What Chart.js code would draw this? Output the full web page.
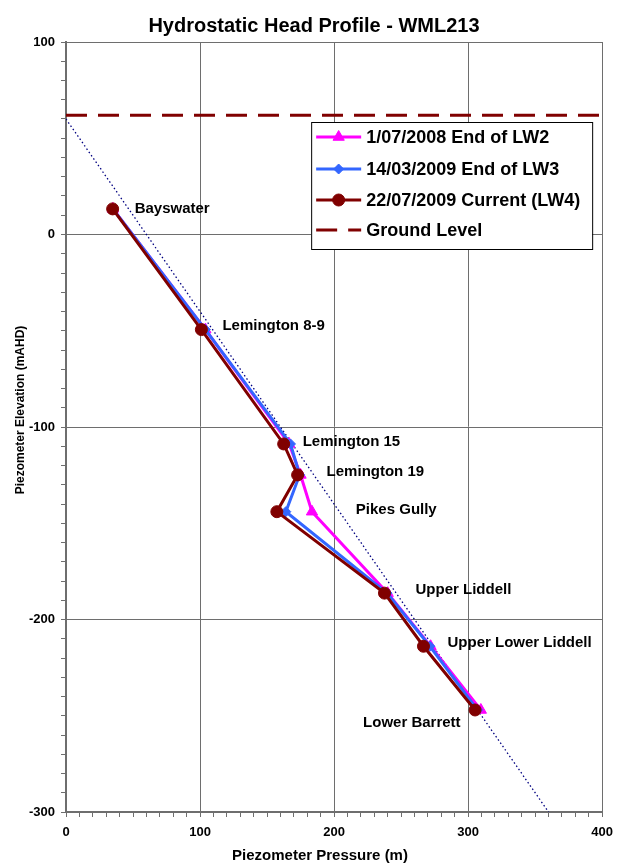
<!DOCTYPE html>
<html><head><meta charset="utf-8">
<script src="https://cdn.jsdelivr.net/npm/chart.js@4.4.1/dist/chart.umd.min.js"></script>
<style>html,body{margin:0;padding:0;background:#fff;}#wrap{width:621px;height:867px;position:relative;}</style>
</head><body><div id="wrap"><canvas id="c" width="621" height="867"></canvas></div>
<script>
const chartTitle = 'Hydrostatic Head Profile - WML213';
const xAxisTitle = 'Piezometer Pressure (m)';
const yAxisTitle = 'Piezometer Elevation (mAHD)';
const piezometers = ['Bayswater','Lemington 8-9','Lemington 15','Lemington 19','Pikes Gully','Upper Liddell','Upper Lower Liddell','Lower Barrett'];
const elevation   = [13.3, -49.4, -108.8, -124.9, -144, -186.3, -213.9, -247];
const pressureLW2 = [35, 104, 166.5, 175, 183.5, 240, 272, 309.5];
const pressureLW3 = [35, 104, 167.5, 174.3, 164, 239.5, 271.5, 307];
const pressureLW4 = [34.8, 101, 162.4, 172.8, 157.3, 237.6, 266.7, 305.2];
const groundLevelX = [0, 400];
const groundLevelY = [62, 62];
const hydrostaticX = [0, 360];
const hydrostaticY = [60, -300];
const seriesNames = ['1/07/2008 End of LW2','14/03/2009 End of LW3','22/07/2009 Current (LW4)','Ground Level'];
const xTickValues = [0, 100, 200, 300, 400];
const yTickValues = [-300, -200, -100, 0, 100];

// label placement offsets (px) relative to the LW4 marker
const labelOffsets = [[22,0],[21,-4],[19,-2],[29,-3],[79,-2],[31,-3],[24,-3],[-112,13]];

const FONT = '"Liberation Sans", Arial, sans-serif';
const toPts = (xs, ys) => xs.map((v, i) => ({x: v, y: ys[i]}));
const isMajorX = v => xTickValues.includes(v);
const isMajorY = v => yTickValues.includes(v);

const overlay = {
  id: 'overlay',
  afterDatasetsDraw(chart) {
    const {ctx, chartArea: a, scales: {x, y}} = chart;
    ctx.save();
    ctx.fillStyle = '#000';
    ctx.font = 'bold 15px ' + FONT;
    ctx.textBaseline = 'middle';
    ctx.textAlign = 'left';
    piezometers.forEach((name, i) => {
      const px = x.getPixelForValue(pressureLW4[i]);
      const py = y.getPixelForValue(elevation[i]);
      ctx.fillText(name, px + labelOffsets[i][0], py + labelOffsets[i][1]);
    });
    // legend
    const bx = a.right - 291, by = a.top + 80, bw = 281, bh = 127;
    ctx.fillStyle = '#fff';
    ctx.fillRect(bx, by, bw, bh);
    ctx.strokeStyle = '#000';
    ctx.lineWidth = 1;
    ctx.strokeRect(bx + 0.5, by + 0.5, bw, bh);
    const rows = [15, 47, 78, 108];
    const ds = chart.data.datasets;
    ctx.font = 'bold 18px ' + FONT;
    for (let i = 0; i < 4; i++) {
      const d = ds[i];
      const yy = by + rows[i];
      ctx.strokeStyle = d.borderColor;
      ctx.lineWidth = 3;
      ctx.setLineDash(d.borderDash || []);
      ctx.beginPath();
      ctx.moveTo(bx + 5, yy); ctx.lineTo(bx + 50, yy);
      ctx.stroke();
      ctx.setLineDash([]);
      if (d.pointRadius) {
        ctx.fillStyle = d.backgroundColor;
        ctx.strokeStyle = d.borderColor;
        ctx.lineWidth = 1;
        Chart.helpers.drawPoint(ctx, {pointStyle: d.pointStyle, radius: d.pointRadius, borderWidth: 1, rotation: 0}, bx + 27.5, yy);
      }
      ctx.fillStyle = '#000';
      ctx.textBaseline = 'middle';
      ctx.fillText(seriesNames[i], bx + 55, yy + 1);
    }
    ctx.restore();
  },
  afterDraw(chart) {
    const {ctx} = chart;
    ctx.save();
    ctx.fillStyle = '#000';
    ctx.textAlign = 'center';
    ctx.textBaseline = 'alphabetic';
    ctx.font = 'bold 20px ' + FONT;
    ctx.fillText(chartTitle, 314, 32);
    ctx.font = 'bold 15px ' + FONT;
    ctx.fillText(xAxisTitle, 320, 860);
    ctx.translate(24, 410);
    ctx.rotate(-Math.PI / 2);
    ctx.font = 'bold 12px ' + FONT;
    ctx.fillText(yAxisTitle, 0, 0);
    ctx.restore();
  }
};

new Chart(document.getElementById('c'), {
  type: 'scatter',
  data: {
    datasets: [
      {label: seriesNames[0], data: toPts(pressureLW2, elevation), showLine: true, borderColor: '#FF00FF', backgroundColor: '#FF00FF', borderWidth: 3, pointStyle: 'triangle', pointRadius: 6.5, pointBorderWidth: 1, order: 3},
      {label: seriesNames[1], data: toPts(pressureLW3, elevation), showLine: true, borderColor: '#3366FF', backgroundColor: '#3366FF', borderWidth: 3, pointStyle: 'rectRot', pointRadius: 5, pointBorderWidth: 1, order: 2},
      {label: seriesNames[2], data: toPts(pressureLW4, elevation), showLine: true, borderColor: '#800000', backgroundColor: '#800000', borderWidth: 3, pointStyle: 'circle', pointRadius: 6, pointBorderWidth: 1, order: 1},
      {label: seriesNames[3], data: toPts(groundLevelX, groundLevelY), showLine: true, borderColor: '#800000', backgroundColor: '#800000', borderWidth: 3, borderDash: [21, 11], borderCapStyle: 'butt', pointRadius: 0, order: 4},
      {label: 'Hydrostatic', data: toPts(hydrostaticX, hydrostaticY), showLine: true, borderColor: '#000080', backgroundColor: '#000080', borderWidth: 1.3, borderDash: [1.5, 2.5], pointRadius: 0, order: 5}
    ]
  },
  options: {
    responsive: false,
    animation: false,
    events: [],
    layout: {padding: {left: 0, right: 18, top: 42, bottom: 0}},
    plugins: {legend: {display: false}, title: {display: false}, tooltip: {enabled: false}},
    scales: {
      x: {
        type: 'linear', min: xTickValues[0], max: xTickValues[xTickValues.length - 1],
        afterFit: s => { s.height = 55; },
        ticks: {stepSize: 10, autoSkip: false, maxRotation: 0, padding: 8, color: '#000', font: {family: FONT, size: 13, weight: 'bold'},
          callback: v => isMajorX(v) ? String(v) : ''},
        grid: {color: c => (c.tick && isMajorX(c.tick.value)) ? '#6e6e6e' : 'rgba(0,0,0,0)', tickColor: '#6e6e6e', tickLength: 5, lineWidth: 1},
        border: {color: '#6e6e6e', width: 2}
      },
      y: {
        type: 'linear', min: yTickValues[0], max: yTickValues[yTickValues.length - 1],
        afterFit: s => { s.width = 66; },
        ticks: {stepSize: 10, autoSkip: false, padding: 6, color: '#000', font: {family: FONT, size: 13, weight: 'bold'},
          callback: v => isMajorY(v) ? String(v) : ''},
        grid: {color: c => (c.tick && isMajorY(c.tick.value)) ? '#6e6e6e' : 'rgba(0,0,0,0)', tickColor: '#6e6e6e', tickLength: 5, lineWidth: 1},
        border: {color: '#6e6e6e', width: 2}
      }
    }
  },
  plugins: [overlay]
});
</script></body></html>
